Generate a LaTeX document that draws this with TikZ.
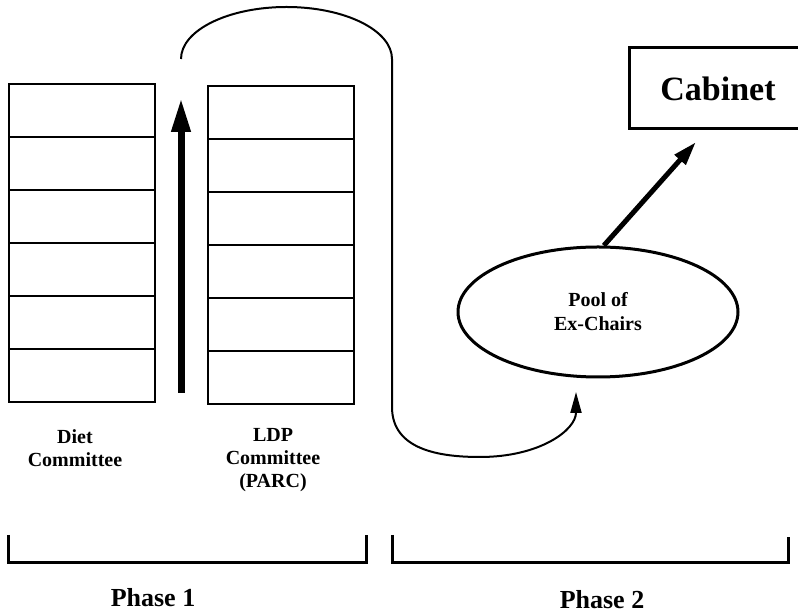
\documentclass[tikz,border=0pt]{standalone}
\usepackage{fontspec}
\setmainfont{Liberation Serif}
\usetikzlibrary{arrows.meta,shapes.geometric}

\begin{document}
\begin{tikzpicture}[x=0.5pt, y=-0.5pt,
  cell/.style={draw, line width=1pt, minimum width=73pt, minimum height=26.5pt,
    inner sep=0pt, outer sep=0pt},
  lbl/.style={font=\fontsize{10}{11.5}\selectfont\bfseries, align=center},
  phase/.style={font=\fontsize{13}{15}\selectfont\bfseries},
  bracket/.style={line width=1.5pt},
  >=Triangle]
  \useasboundingbox (0,0) rectangle (798,613);
  % committee stacks
  \foreach \i in {1,...,6} {
    \node[cell] (d\i) at (81.5,{84+53*(\i-0.5)}) {};
    \node[cell] (l\i) at (280.5,{86+53*(\i-0.5)}) {};
  }
  \node[lbl] (dT) at (75,448) {Diet\\Committee};
  \node[lbl] (lT) at (273,460) {LDP\\Committee\\(PARC)};
  % upward arrow between the stacks
  \coordinate (up0) at (181,393);
  \coordinate (up1) at (181,98);
  \draw[-{Triangle[length=17pt,width=9pt]}, line width=3.5pt] (up0) -- (up1);
  % loop over to the pool
  \node[ellipse, draw, line width=1.5pt, minimum width=140pt, minimum height=65pt,
    lbl, font=\fontsize{10}{12}\selectfont\bfseries] (pool) at (598,312) {Pool of\\Ex-Chairs};
  \coordinate (cs) at (181,59);
  \coordinate (ce) at (576,392);
  \draw[line width=1pt, -{Triangle[length=10.5pt,width=5.5pt]}] (cs)
    arc[start angle=180, end angle=360, x radius=105.5, y radius=52] -- (392,407)
    .. controls (392,450) and (440,457) .. (480,457)
    .. controls (540,457) and (576,430) .. (ce);
  % cabinet
  \node[draw, line width=1.5pt, minimum width=89pt, minimum height=40.5pt,
    font=\fontsize{17}{20}\selectfont\bfseries] (cab) at (718,88.5) {Cabinet};
  \coordinate (ct) at (696,142);
  \draw[line width=2.5pt, -{Triangle[length=12pt,width=7pt]}] (pool.85) -- (ct);
  % phases
  \draw[bracket] (8,535) |- (366,563) -- (366,535);
  \draw[bracket] (392,535) |- (788,563) -- (788,537);
  \node[phase] (p1) at (153,598) {Phase 1};
  \node[phase] (p2) at (602,600) {Phase 2};
\end{tikzpicture}
\end{document}
